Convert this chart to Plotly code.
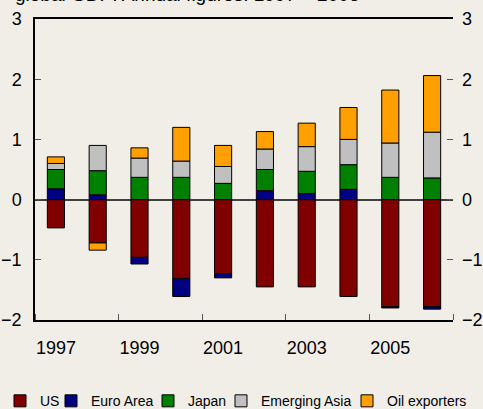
import plotly.graph_objects as go

years = ["1997", "1998", "1999", "2000", "2001", "2002", "2003", "2004", "2005", "2006"]
tick_labels = ["1997", "", "1999", "", "2001", "", "2003", "", "2005", ""]

us = [-0.47, -0.72, -0.96, -1.31, -1.23, -1.45, -1.45, -1.61, -1.78, -1.78]
euro_area = [0.18, 0.08, -0.11, -0.30, -0.07, 0.15, 0.10, 0.17, -0.02, -0.04]
japan = [0.32, 0.40, 0.37, 0.37, 0.27, 0.35, 0.37, 0.41, 0.37, 0.36]
emerging_asia = [0.10, 0.42, 0.32, 0.27, 0.28, 0.34, 0.41, 0.42, 0.57, 0.76]
oil_exporters = [0.11, -0.12, 0.17, 0.56, 0.35, 0.29, 0.39, 0.53, 0.88, 0.94]

series = [
    ("US", us, "#800000"),
    ("Euro Area", euro_area, "#000080"),
    ("Japan", japan, "#008000"),
    ("Emerging Asia", emerging_asia, "#C0C0C0"),
    ("Oil exporters", oil_exporters, "#FFA000"),
]

FONT = "Liberation Sans, Arial, sans-serif"
BG = "#F1EEE8"

# legend box left edges (container fraction) for each series
legend_x = [0.0, 51 / 483, 148 / 483, 221 / 483, 347 / 483]

xpos = list(range(len(years)))

fig = go.Figure()
legend_layouts = {}
for i, (name, vals, col) in enumerate(series):
    lname = "legend" if i == 0 else f"legend{i + 1}"
    fig.add_trace(go.Bar(
        x=xpos, y=vals, name=name, width=0.41, legend=lname,
        marker=dict(color=col, line=dict(color="#000000", width=1)),
    ))
    legend_layouts[lname] = dict(
        orientation="h", xref="container", yref="container",
        x=legend_x[i], xanchor="left", y=0.019, yanchor="middle",
        font=dict(family=FONT, size=14, color="#000000"),
        bgcolor="rgba(0,0,0,0)", itemwidth=30,
    )

fig.add_trace(go.Scatter(x=[0], y=[0], yaxis="y2", showlegend=False,
                         mode="markers", marker=dict(opacity=0), hoverinfo="skip"))

fig.update_layout(
    width=483, height=409,
    margin=dict(l=35, r=30, t=19, b=89, autoexpand=False),
    paper_bgcolor=BG, plot_bgcolor=BG,
    barmode="relative",
    font=dict(family=FONT, size=18, color="#000000"),
    showlegend=True,
    xaxis=dict(
        range=[-0.5, 9.5], tickmode="array", tickvals=xpos, ticktext=tick_labels,
        ticks="", showgrid=False, zeroline=False,
        showline=True, linecolor="#000000", linewidth=1.5, mirror=True,
        minor=dict(ticks="inside", tick0=1.5, dtick=2, ticklen=6, tickcolor="#555555",
                   showgrid=False),
        tickfont=dict(family=FONT, size=18), ticklabelstandoff=11,
    ),
    yaxis=dict(
        range=[-2, 3], dtick=1, tick0=0, ticks="inside", ticklen=6, tickcolor="#555555",
        showgrid=False, zeroline=True, zerolinecolor="#404040", zerolinewidth=1.5,
        showline=True, linecolor="#000000", linewidth=1.5,
        tickfont=dict(family=FONT, size=18), ticklabelstandoff=8,
    ),
    yaxis2=dict(
        range=[-2, 3], dtick=1, tick0=0, overlaying="y", side="right",
        ticks="inside", ticklen=6, tickcolor="#555555", showgrid=False, zeroline=False,
        showline=False, tickfont=dict(family=FONT, size=18), ticklabelstandoff=8,
    ),
    annotations=[dict(
        text="global GDP: Annual figures: 1997 – 2006",
        xref="paper", yref="paper", x=-0.053, y=1.0, yshift=12,
        xanchor="left", yanchor="bottom",
        showarrow=False, font=dict(family=FONT, size=19),
    )],
    **legend_layouts,
)

fig.write_html(
    "out.html",
    config={"displayModeBar": False},
    post_script="document.body.style.margin='0px';document.body.style.overflow='hidden';",
)
